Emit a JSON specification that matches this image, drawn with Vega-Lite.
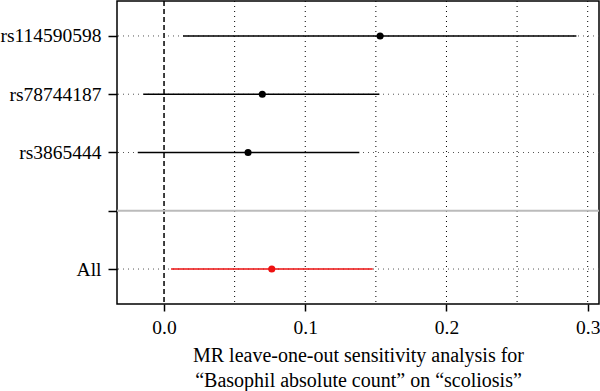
{
  "$schema": "https://vega.github.io/schema/vega-lite/v6.json",
  "width": 482,
  "height": 303,
  "autosize": "none",
  "padding": {"left": 117, "top": 1, "right": 1, "bottom": 87},
  "config": {
    "font": "Liberation Serif",
    "view": {"stroke": "black", "strokeWidth": 1.5},
    "axis": {"labelFont": "Liberation Serif", "titleFont": "Liberation Serif", "labelColor": "black", "titleColor": "black", "tickColor": "black", "domain": false, "grid": false}
  },
  "datasets": {
    "est": [
      {"snp": "rs114590598", "pos": 5, "b": 0.153, "lo": 0.0135, "hi": 0.292, "grp": "snp"},
      {"snp": "rs78744187", "pos": 4, "b": 0.0696, "lo": -0.0146, "hi": 0.1525, "grp": "snp"},
      {"snp": "rs3865444", "pos": 3, "b": 0.0595, "lo": -0.0186, "hi": 0.1383, "grp": "snp"},
      {"snp": "All", "pos": 1, "b": 0.0763, "lo": 0.005, "hi": 0.1478, "grp": "all"}
    ],
    "grid": [{"g": 0.05}, {"g": 0.1}, {"g": 0.15}, {"g": 0.2}, {"g": 0.25}, {"g": 0.3}]
  },
  "layer": [
    {
      "data": {"name": "grid"},
      "mark": {"type": "rule", "color": "black", "strokeWidth": 1, "strokeDash": [1, 4]},
      "encoding": {
        "x": {"field": "g", "type": "quantitative", "scale": {"domain": [-0.0333, 0.308], "nice": false, "zero": false},
          "title": ["MR leave-one-out sensitivity analysis for", "“Basophil absolute count” on “scoliosis”"],
          "axis": {"values": [0, 0.1, 0.2, 0.3], "format": ".1f", "labelFontSize": 19.5, "tickSize": 7, "tickWidth": 1.5, "labelPadding": 7, "titleFontSize": 20, "titleFontWeight": "normal", "titlePadding": 9, "titleLineHeight": 25}}
      }
    },
    {
      "data": {"values": [{"z": 0}]},
      "mark": {"type": "rule", "color": "black", "strokeWidth": 1.5, "strokeDash": [5, 3]},
      "encoding": {"x": {"field": "z", "type": "quantitative", "title": ["MR leave-one-out sensitivity analysis for", "“Basophil absolute count” on “scoliosis”"]}}
    },
    {
      "data": {"name": "est"},
      "mark": {"type": "rule", "color": "#555555", "strokeWidth": 1, "strokeDash": [1, 4]},
      "encoding": {
        "y": {"field": "pos", "type": "quantitative", "scale": {"domain": [0.4, 5.6], "nice": false, "zero": false}, "title": null,
          "axis": {"values": [1, 2, 3, 4, 5], "labelExpr": "datum.value == 5 ? 'rs114590598' : datum.value == 4 ? 'rs78744187' : datum.value == 3 ? 'rs3865444' : datum.value == 1 ? 'All' : ''", "labelFontSize": 19.5, "tickSize": 9, "tickWidth": 1.5, "labelPadding": 7}}
      }
    },
    {
      "data": {"values": [{"s": 2}]},
      "mark": {"type": "rule", "color": "#bbbbbb", "strokeWidth": 2},
      "encoding": {"y": {"field": "s", "type": "quantitative", "title": null}}
    },
    {
      "data": {"name": "est"},
      "mark": {"type": "rule", "strokeWidth": 1.5},
      "encoding": {
        "x": {"field": "lo", "type": "quantitative", "title": ["MR leave-one-out sensitivity analysis for", "“Basophil absolute count” on “scoliosis”"]},
        "x2": {"field": "hi"},
        "y": {"field": "pos", "type": "quantitative", "title": null},
        "color": {"field": "grp", "type": "nominal", "scale": {"domain": ["snp", "all"], "range": ["black", "#ee1111"]}, "legend": null}
      }
    },
    {
      "data": {"name": "est"},
      "mark": {"type": "circle", "size": 50, "opacity": 1},
      "encoding": {
        "x": {"field": "b", "type": "quantitative", "title": ["MR leave-one-out sensitivity analysis for", "“Basophil absolute count” on “scoliosis”"]},
        "y": {"field": "pos", "type": "quantitative", "title": null},
        "color": {"field": "grp", "type": "nominal", "legend": null}
      }
    }
  ]
}
